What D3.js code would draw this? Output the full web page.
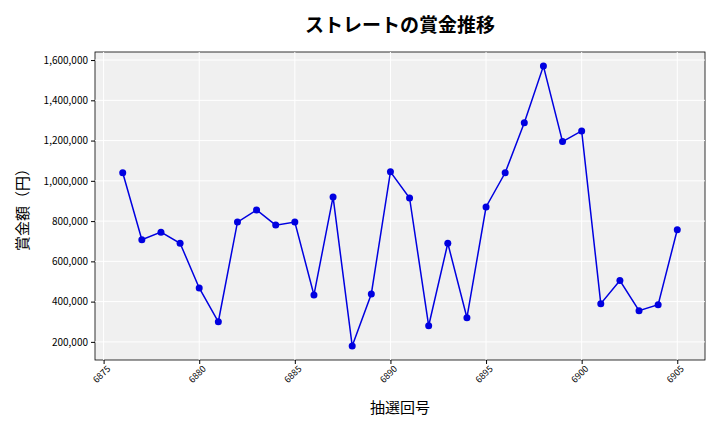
<!DOCTYPE html>
<html><head><meta charset="utf-8">
<script src="https://cdn.jsdelivr.net/npm/d3@7"></script>
<style>body{margin:0;background:#fff}text{font-family:"Noto Sans CJK JP","Noto Sans",sans-serif}</style>
</head><body><div id="chart"></div>
<script>
const draws = d3.range(6876, 6906);
const prizes = [1040000,707000,745000,690000,468000,300000,795000,855000,780000,795000,
  433000,920000,180000,438000,1045000,915000,280000,690000,320000,870000,
  1040000,1288000,1570000,1195000,1248000,390000,505000,355000,385000,757000];
const xTicks = [6875,6880,6885,6890,6895,6900,6905];
const yTicks = [200000,400000,600000,800000,1000000,1200000,1400000,1600000];

const W = 720, H = 432, m = {l:95, r:15, t:52, b:72};
const svg = d3.select('#chart').append('svg').attr('width', W).attr('height', H);
const x = d3.scaleLinear().domain([6874.55, 6906.45]).range([m.l, W - m.r]);
const y = d3.scaleLinear().domain([110000, 1640000]).range([H - m.b, m.t]);

svg.append('rect').attr('x', m.l).attr('y', m.t).attr('width', W - m.l - m.r)
  .attr('height', H - m.t - m.b).attr('fill', '#f0f0f0').attr('stroke', '#000').attr('stroke-width', 0.8);

const g = svg.append('g');
g.selectAll('.gx').data(xTicks).enter().append('line')
  .attr('x1', d => x(d)).attr('x2', d => x(d)).attr('y1', m.t).attr('y2', H - m.b)
  .attr('stroke', '#fff').attr('stroke-width', 1);
g.selectAll('.gy').data(yTicks).enter().append('line')
  .attr('x1', m.l).attr('x2', W - m.r).attr('y1', d => y(d)).attr('y2', d => y(d))
  .attr('stroke', '#fff').attr('stroke-width', 1);

const xa = svg.append('g').attr('transform', `translate(0,${H - m.b})`)
  .call(d3.axisBottom(x).tickValues(xTicks).tickFormat(d3.format('d')).tickSize(4));
xa.select('.domain').remove();
xa.selectAll('text').attr('font-size', 9).attr('text-anchor', 'end')
  .attr('transform', 'rotate(-45)').attr('dx', '-0.2em').attr('dy', '0.5em');

const ya = svg.append('g').attr('transform', `translate(${m.l},0)`)
  .call(d3.axisLeft(y).tickValues(yTicks).tickFormat(d3.format(',')).tickSize(4));
ya.select('.domain').remove();
ya.selectAll('text').attr('font-size', 10);

const line = d3.line().x((d, i) => x(draws[i])).y(d => y(d));
svg.append('path').datum(prizes).attr('d', line).attr('fill', 'none')
  .attr('stroke', '#0000e0').attr('stroke-width', 1.5);
svg.selectAll('.pt').data(prizes).enter().append('circle')
  .attr('cx', (d, i) => x(draws[i])).attr('cy', d => y(d)).attr('r', 3.5).attr('fill', '#0000e0');

svg.append('text').attr('x', (m.l + W - m.r) / 2).attr('y', 32).attr('text-anchor', 'middle')
  .attr('font-size', 19).attr('font-weight', 'bold').text('ストレートの賞金推移');
svg.append('text').attr('x', (m.l + W - m.r) / 2).attr('y', 413).attr('text-anchor', 'middle')
  .attr('font-size', 15).text('抽選回号');
svg.append('text').attr('transform', `translate(28,${(m.t + H - m.b) / 2}) rotate(-90)`)
  .attr('text-anchor', 'middle').attr('font-size', 15).text('賞金額（円）');
</script></body></html>
